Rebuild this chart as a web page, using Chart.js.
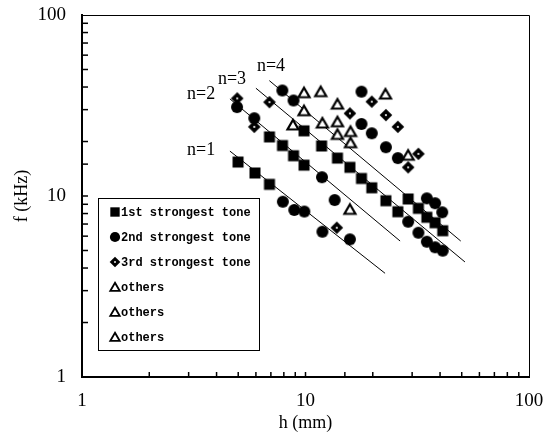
<!DOCTYPE html>
<html>
<head>
<meta charset="utf-8">
<script src="https://cdn.jsdelivr.net/npm/chart.js@4.4.1/dist/chart.umd.min.js"></script>
<style>
    html, body { margin: 0; padding: 0; background: #fff; }
    #wrap { width: 553px; height: 436px; position: relative; }
</style>
</head>
<body>
<div id="wrap"><canvas id="grafico"></canvas></div>
<script>
// values: h in mm, f in kHz
const firstH = [4.99, 5.94, 6.9, 6.9, 7.89, 8.84, 9.85, 9.85, 11.8, 13.9, 15.8, 17.8, 19.8, 22.9, 25.9, 28.8, 32.0, 34.9, 38.0, 41.1]
const firstF = [15.4, 13.4, 11.6, 21.2, 19.0, 16.7, 14.8, 22.9, 18.9, 16.2, 14.4, 12.5, 11.1, 9.42, 8.19, 9.63, 8.55, 7.63, 7.12, 6.43]

const secondH = [4.94, 5.90, 7.88, 8.84, 7.92, 8.91, 9.88, 11.9, 13.5, 15.8, 11.85, 17.8, 17.8, 19.8, 22.9, 25.9, 28.8, 32.0, 34.9, 38.0, 41.1, 34.9, 38.0, 40.9]
const secondF = [31.0, 26.9, 38.3, 33.7, 9.30, 8.37, 8.21, 6.35, 9.50, 5.76, 12.7, 37.7, 25.0, 22.2, 18.6, 16.2, 7.21, 6.27, 5.59, 5.21, 4.99, 9.71, 9.12, 8.13]

const thirdH = [4.95, 5.90, 6.9, 13.8, 15.8, 19.8, 22.9, 25.9, 32.0, 28.8]
const thirdF = [34.6, 24.1, 33.0, 6.68, 28.6, 33.2, 28.0, 24.1, 17.1, 14.4]

const othersAH = [8.79, 13.9, 15.9, 28.8, 15.8]
const othersAF = [24.7, 21.9, 19.7, 16.8, 8.44]
const othersBH = [9.85, 11.9, 13.9, 15.9]
const othersBF = [29.6, 25.3, 25.7, 22.7]
const othersCH = [9.85, 11.7, 13.9, 22.8]
const othersCF = [37.2, 37.7, 32.2, 36.6]

// fitted lines f ~ 1/h for n = 1..4 (ends)
const lineN = [1, 2, 3, 4]
const lineStartH = [4.59, 4.59, 6.0, 6.89]
const lineStartF = [17.7, 34.4, 39.4, 43.4]
const lineEndH = [22.7, 26.5, 51.7, 49.5]
const lineEndF = [3.74, 5.64, 4.32, 5.64]

const seriesLabels = ['1st strongest tone', '2nd strongest tone', '3rd strongest tone', 'others', 'others', 'others']
const tickLabels = [1, 10, 100]

function pts(xs, ys) {
    return xs.map((x, i) => ({ x: x, y: ys[i] }))
}

function marker(kind, s) {
    const c = document.createElement('canvas')
    c.width = 16
    c.height = 16
    const g = c.getContext('2d')
    g.translate(8, 8)
    g.scale(s, s)
    g.fillStyle = '#000'
    g.strokeStyle = '#000'
    if (kind === 'square') {
        g.fillRect(-5.5, -5.5, 11, 11)
    } else if (kind === 'circle') {
        g.beginPath(); g.arc(0, 0, 6, 0, Math.PI * 2); g.fill()
    } else if (kind === 'diamond') {
        g.beginPath(); g.moveTo(0, -6.3); g.lineTo(6.3, 0); g.lineTo(0, 6.3); g.lineTo(-6.3, 0); g.closePath(); g.fill()
        g.fillStyle = '#fff'
        g.beginPath(); g.arc(0, 0, 1.1, 0, Math.PI * 2); g.fill()
    } else {
        g.beginPath(); g.moveTo(0, -5); g.lineTo(5.5, 4.5); g.lineTo(-5.5, 4.5); g.closePath()
        g.fillStyle = '#fff'; g.fill()
        g.lineWidth = 2.2; g.lineJoin = 'miter'; g.stroke()
    }
    return c
}

const kinds = ['square', 'circle', 'diamond', 'triangle', 'triangle', 'triangle']
const seriesData = [
    pts(firstH, firstF), pts(secondH, secondF), pts(thirdH, thirdF),
    pts(othersAH, othersAF), pts(othersBH, othersBF), pts(othersCH, othersCF)
]

const datasets = seriesData.map((d, i) => ({
    type: 'scatter',
    label: seriesLabels[i],
    data: d,
    pointStyle: marker(kinds[i], 1),
    legendMark: marker(kinds[i], 0.85),
    pointRadius: 6,
    order: 1
}))

lineN.forEach((n, i) => {
    datasets.push({
        type: 'line',
        label: 'n=' + n,
        isFit: true,
        data: [{ x: lineStartH[i], y: lineStartF[i] }, { x: lineEndH[i], y: lineEndF[i] }],
        borderColor: '#000',
        borderWidth: 1,
        pointRadius: 0,
        fill: false,
        order: 2
    })
})

// where the "n=" captions sit, in data units
const nLabelPos = [[3.41, 17.9], [3.41, 36.6], [4.69, 44.3], [7.01, 52.3]]

const framePlugin = {
    id: 'frame',
    afterDraw(chart) {
        const ctx = chart.ctx
        const a = chart.chartArea
        const xs = chart.scales.x
        const ys = chart.scales.y
        ctx.save()
        ctx.strokeStyle = '#000'
        // top and right edges
        ctx.lineWidth = 1
        ctx.beginPath()
        ctx.moveTo(a.left, a.top + 0.5); ctx.lineTo(a.right + 0.5, a.top + 0.5); ctx.lineTo(a.right + 0.5, a.bottom)
        ctx.stroke()
        // inward ticks
        ctx.lineWidth = 1.5
        xs.ticks.forEach(t => {
            const p = xs.getPixelForValue(t.value)
            if (p <= a.left + 1 || p >= a.right - 1) return
            ctx.beginPath(); ctx.moveTo(p, a.bottom); ctx.lineTo(p, a.bottom - 5); ctx.stroke()
        })
        ys.ticks.forEach(t => {
            const p = ys.getPixelForValue(t.value)
            if (p <= a.top + 1 || p >= a.bottom - 1) return
            ctx.beginPath(); ctx.moveTo(a.left, p); ctx.lineTo(a.left + 6, p); ctx.stroke()
        })
        // n= captions
        ctx.fillStyle = '#000'
        ctx.font = '18px "Liberation Serif"'
        ctx.textAlign = 'center'
        ctx.textBaseline = 'middle'
        nLabelPos.forEach((p, i) => {
            ctx.fillText('n=' + lineN[i], xs.getPixelForValue(p[0]), ys.getPixelForValue(p[1]))
        })
        // legend box
        ctx.lineWidth = 1
        ctx.fillStyle = '#fff'
        ctx.fillRect(98, 198, 162, 153)
        ctx.strokeRect(98.5, 198.5, 161, 152)
        ctx.fillStyle = '#000'
        ctx.font = 'bold 12px "Liberation Mono"'
        ctx.textAlign = 'left'
        chart.data.datasets.filter(d => !d.isFit).forEach((d, i) => {
            const y = 212 + i * 25
            const m = d.legendMark
            ctx.drawImage(m, 115 - m.width / 2, y - m.height / 2)
            ctx.fillText(d.label, 121, y + 1)
        })
        ctx.restore()
    }
}

const axisFont = { family: 'Liberation Serif', size: 19 }

new Chart(document.getElementById('grafico'), {
    data: { datasets: datasets },
    options: {
        responsive: true,
        maintainAspectRatio: false,
        animation: false,
        layout: { padding: { left: 0, top: 15, right: 24, bottom: 0 } },
        plugins: { legend: { display: false }, tooltip: { enabled: false } },
        scales: {
            x: {
                type: 'logarithmic',
                min: 1,
                max: 100,
                grid: { display: false, drawTicks: false },
                border: { display: true, color: '#000', width: 2 },
                ticks: {
                    color: '#000', font: axisFont, padding: 13, autoSkip: false, maxRotation: 0,
                    callback: v => tickLabels.includes(v) ? String(v) : ''
                },
                title: { display: true, text: 'h (mm)', color: '#000', font: { family: 'Liberation Serif', size: 18 }, padding: { top: 0, bottom: 2 } },
                afterFit: s => { s.height = 59; s.paddingLeft = 0; s.paddingRight = 0 }
            },
            y: {
                type: 'logarithmic',
                min: 1,
                max: 100,
                grid: { display: false, drawTicks: false },
                border: { display: true, color: '#000', width: 2 },
                ticks: {
                    color: '#000', font: axisFont, padding: 16, autoSkip: false,
                    callback: v => tickLabels.includes(v) ? String(v) : ''
                },
                title: { display: true, text: 'f (kHz)', color: '#000', font: { family: 'Liberation Serif', size: 18 }, padding: { top: 11, bottom: 0 } },
                afterFit: s => { s.width = 82; s.paddingTop = 0; s.paddingBottom = 0 }
            }
        }
    },
    plugins: [framePlugin]
})
</script>
</body>
</html>
